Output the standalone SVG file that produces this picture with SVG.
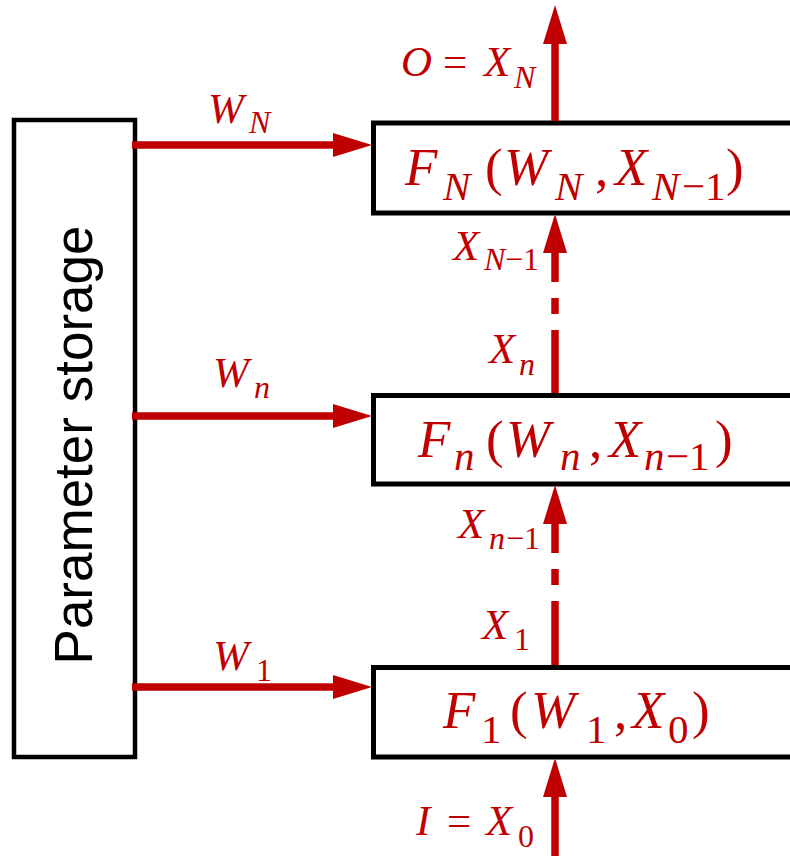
<svg xmlns="http://www.w3.org/2000/svg" width="790" height="856" viewBox="0 0 790 856">
<defs>
<style>
.box{fill:#fff;stroke:#000;stroke-width:5}
.ln{stroke:#C00000;stroke-width:7.5;fill:none}
.m{font-family:"Liberation Serif","DejaVu Serif",serif;font-style:italic;fill:#C00000}
.u{font-style:normal}
.bx{font-size:53px}
.bs{font-size:41px}
.lb{font-size:43px}
.ls{font-size:32px}
.ps{font-family:"Liberation Sans",Arial,sans-serif;font-size:53px;fill:#000}
</style>
<marker id="ah" markerUnits="userSpaceOnUse" markerWidth="40" markerHeight="26" refX="0" refY="12" orient="auto" viewBox="0 0 40 24">
<path d="M0,0 L39,12 L0,24 Z" fill="#C00000"/>
</marker>
</defs>
<rect width="790" height="856" fill="#fff"/>

<g id="storage">
<rect x="14" y="120" width="121" height="637" fill="#fff" stroke="#000" stroke-width="4.5"/>
<text class="ps" transform="translate(92,445) rotate(-90)" text-anchor="middle" x="0" y="0">Parameter storage</text>
</g>

<g id="fN">
<rect class="box" x="373.5" y="123" width="440" height="90"/>
<text class="m bx"><tspan x="405" y="185">F</tspan><tspan class="bs" x="443" y="200">N</tspan><tspan class="u" x="485" y="185">(</tspan><tspan x="504" y="185">W</tspan><tspan class="bs" x="555" y="200">N</tspan><tspan class="u" x="595" y="185">,</tspan><tspan x="615" y="185">X</tspan><tspan class="bs" x="652" y="200">N</tspan><tspan class="bs u" x="682" y="200">−1</tspan><tspan class="u" x="726" y="185">)</tspan></text>
</g>

<g id="fn">
<rect class="box" x="373.5" y="395.5" width="440" height="88.5"/>
<text class="m bx"><tspan x="418" y="457">F</tspan><tspan class="bs" x="454" y="470">n</tspan><tspan class="u" x="486" y="457">(</tspan><tspan x="506" y="457">W</tspan><tspan class="bs" x="560" y="470">n</tspan><tspan class="u" x="589" y="457">,</tspan><tspan x="609" y="457">X</tspan><tspan class="bs" x="644" y="470">n</tspan><tspan class="bs u" x="666" y="470">−1</tspan><tspan class="u" x="715" y="457">)</tspan></text>
</g>

<g id="f1">
<rect class="box" x="373.5" y="667.5" width="440" height="89.5"/>
<text class="m bx"><tspan x="443" y="728">F</tspan><tspan class="bs u" x="481" y="743">1</tspan><tspan class="u" x="510" y="728">(</tspan><tspan x="531" y="728">W</tspan><tspan class="bs u" x="586" y="743">1</tspan><tspan class="u" x="614" y="728">,</tspan><tspan x="632" y="728">X</tspan><tspan class="bs u" x="668" y="743">0</tspan><tspan class="u" x="692" y="728">)</tspan></text>
</g>

<g id="connectors">
<line class="ln" x1="132" y1="145" x2="333" y2="145" marker-end="url(#ah)"/>
<line class="ln" x1="132" y1="416" x2="333" y2="416" marker-end="url(#ah)"/>
<line class="ln" x1="132" y1="687" x2="333" y2="687" marker-end="url(#ah)"/>
<line class="ln" x1="555" y1="121" x2="555" y2="44" marker-end="url(#ah)"/>
<line class="ln" x1="555" y1="393" x2="555" y2="330"/>
<line class="ln" x1="555" y1="314" x2="555" y2="298"/>
<line class="ln" x1="555" y1="282" x2="555" y2="253" marker-end="url(#ah)"/>
<line class="ln" x1="555" y1="665" x2="555" y2="601"/>
<line class="ln" x1="555" y1="585" x2="555" y2="569"/>
<line class="ln" x1="555" y1="553" x2="555" y2="524" marker-end="url(#ah)"/>
<line class="ln" x1="555" y1="856" x2="555" y2="797" marker-end="url(#ah)"/>
</g>

<g id="labels">
<text class="m lb"><tspan x="401" y="76">O</tspan><tspan class="u" x="443" y="76">=</tspan><tspan x="484" y="76">X</tspan><tspan class="ls" x="514" y="88">N</tspan></text>
<text class="m lb"><tspan x="453" y="260">X</tspan><tspan class="ls" x="484" y="270">N</tspan><tspan class="ls u" x="505" y="270">−1</tspan></text>
<text class="m lb"><tspan x="489" y="363">X</tspan><tspan class="ls" x="519" y="375">n</tspan></text>
<text class="m lb"><tspan x="458" y="538">X</tspan><tspan class="ls" x="489" y="549">n</tspan><tspan class="ls u" x="506" y="549">−1</tspan></text>
<text class="m lb"><tspan x="482" y="639">X</tspan><tspan class="ls u" x="514" y="650">1</tspan></text>
<text class="m lb"><tspan x="416" y="835">I</tspan><tspan class="u" x="447" y="835">=</tspan><tspan x="486" y="835">X</tspan><tspan class="ls u" x="518" y="847">0</tspan></text>
<text class="m lb"><tspan x="208" y="123">W</tspan><tspan class="ls" x="249" y="133">N</tspan></text>
<text class="m lb"><tspan x="213" y="387">W</tspan><tspan class="ls" x="254" y="398">n</tspan></text>
<text class="m lb"><tspan x="213" y="670">W</tspan><tspan class="ls u" x="256" y="681">1</tspan></text>
</g>
</svg>
